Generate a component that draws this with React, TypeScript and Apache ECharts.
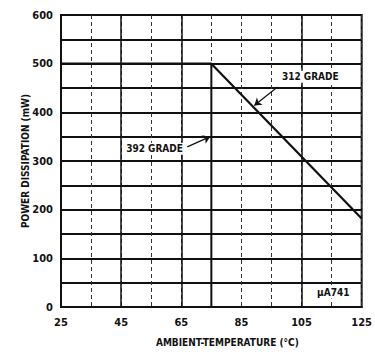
import React, { useEffect, useRef } from 'react';
import * as echarts from 'echarts';

// Temperature axis starts at 25 °C; internally offset so ticks land on 25, 35, 45...
const T0 = 25;
const tempMin = 25;
const tempMax = 125;
const powerMin = 0;
const powerMax = 600;

// Derating curve (ambient temperature °C -> max power dissipation mW)
const derateTemps = [25, 75, 125];
const derateValues = [500, 500, 182];

// Vertical drop at the break point
const breakTemps = [75, 75];
const breakValues = [0, 500];

// Solid (major) vertical grid lines
const solidGridTemps = [45, 65, 105];

// Annotation texts and where they sit (data coordinates)
const labelTexts = ['392 GRADE', '312 GRADE', 'µA741'];
const labelTemps = [46, 97.8, 109.5];
const labelValues = [325, 473, 30];

// Arrows: tail -> head (data coordinates)
const arrowFromTemps = [67, 97];
const arrowFromValues = [329, 452];
const arrowToTemps = [74.6, 89.3];
const arrowToValues = [350, 414];

const FONT = '"Liberation Sans Narrow", "DejaVu Sans Condensed", "Liberation Sans", sans-serif';

export default function App() {
  const ref = useRef<HTMLDivElement>(null);
  useEffect(() => {
    if (!ref.current) return;
    const chart = echarts.init(ref.current, undefined, { renderer: 'svg' });
    const x = (t: number) => t - T0;

    const option: any = {
      animation: false,
      backgroundColor: '#fff',
      textStyle: { fontFamily: FONT },
      grid: {
        left: 61,
        right: 13,
        top: 15,
        bottom: 47,
        show: true,
        borderColor: '#111',
        borderWidth: 2,
        backgroundColor: 'transparent',
      },
      xAxis: {
        type: 'value',
        min: x(tempMin),
        max: x(tempMax),
        interval: 10,
        name: 'AMBIENT-TEMPERATURE (°C)',
        nameLocation: 'middle',
        nameGap: 30,
        nameMoveOverlap: false,
        nameTextStyle: {
          fontFamily: FONT,
          fontWeight: 'bold',
          fontSize: 10,
          color: '#111',
          padding: [0, 0, 0, 32],
        },
        axisLine: { show: true, lineStyle: { color: '#111', width: 2 } },
        axisTick: { show: false },
        axisLabel: {
          margin: 10,
          fontFamily: FONT,
          fontWeight: 'bold',
          fontSize: 11,
          color: '#111',
          formatter: (v: number) => ((v % 20 === 0) ? String(v + T0) : ''),
        },
        splitLine: {
          show: true,
          lineStyle: { color: '#333', width: 1, type: [4, 3] },
        },
      },
      yAxis: {
        type: 'value',
        min: powerMin,
        max: powerMax,
        interval: 50,
        name: 'POWER DISSIPATION (mW)',
        nameLocation: 'middle',
        nameGap: 31,
        nameMoveOverlap: false,
        nameTextStyle: {
          fontFamily: FONT,
          fontWeight: 'bold',
          fontSize: 10,
          color: '#111',
        },
        axisLine: { show: true, lineStyle: { color: '#111', width: 2 } },
        axisTick: { show: false },
        axisLabel: {
          margin: 8,
          fontFamily: FONT,
          fontWeight: 'bold',
          fontSize: 11,
          color: '#111',
          formatter: (v: number) => ((v % 100 === 0) ? String(v) : ''),
        },
        splitLine: {
          show: true,
          lineStyle: { color: '#111', width: 1.8, type: 'solid' },
        },
      },
      series: [
        {
          type: 'line',
          name: 'solid grid',
          data: [],
          silent: true,
          markLine: {
            silent: true,
            symbol: ['none', 'none'],
            label: { show: false },
            lineStyle: { color: '#111', width: 1.5, type: 'solid' },
            data: solidGridTemps.map((t) => ({ xAxis: x(t) })),
          },
        },
        {
          type: 'line',
          name: 'break',
          data: breakTemps.map((t, i) => [x(t), breakValues[i]]),
          showSymbol: false,
          symbol: 'none',
          lineStyle: { color: '#111', width: 2 },
        },
        {
          type: 'line',
          name: 'derating',
          data: derateTemps.map((t, i) => [x(t), derateValues[i]]),
          showSymbol: false,
          symbol: 'none',
          lineStyle: { color: '#111', width: 2.2 },
          z: 5,
          markLine: {
            silent: true,
            symbolSize: 7,
            label: { show: false },
            lineStyle: { color: '#111', width: 1.2, type: 'solid' },
            data: arrowFromTemps.map((t, i) => [
              { coord: [x(t), arrowFromValues[i]], symbol: 'none' },
              { coord: [x(arrowToTemps[i]), arrowToValues[i]], symbol: 'arrow' },
            ]),
          },
          markPoint: {
            silent: true,
            symbol: 'circle',
            symbolSize: 0,
            data: labelTexts.map((s, i) => ({
              coord: [x(labelTemps[i]), labelValues[i]],
              value: s,
            })),
            label: {
              show: true,
              position: 'inside',
              align: 'left',
              verticalAlign: 'middle',
              formatter: (p: any) => p.value,
              fontFamily: FONT,
              fontWeight: 'bold',
              fontSize: 10,
              color: '#111',
              backgroundColor: '#fff',
              padding: [1, 2],
            },
          },
        },
      ],
    };
    chart.setOption(option);
    return () => chart.dispose();
  }, []);
  return (
    <div
      ref={ref}
      style={{ position: 'fixed', left: 0, top: 0, width: 375, height: 354, background: '#fff' }}
    />
  );
}
